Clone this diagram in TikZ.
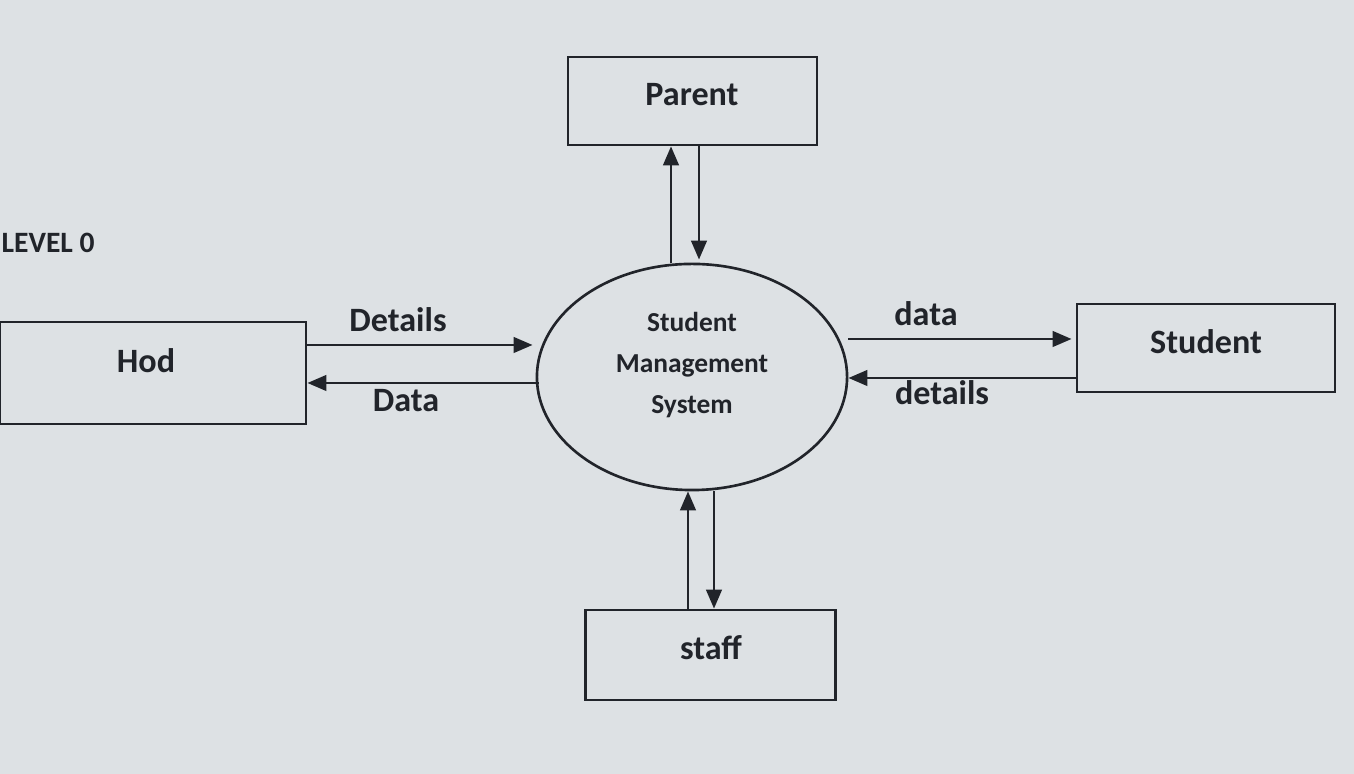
\documentclass[tikz,border=0pt]{standalone}
\usepackage{fontspec}
\setmainfont{Carlito}
\usetikzlibrary{arrows.meta,shapes.geometric}
\definecolor{paper}{RGB}{221,225,228}
\definecolor{ink}{RGB}{33,36,42}
\begin{document}
\begin{tikzpicture}[x=0.01cm,y=-0.01cm,
  box/.style={draw=ink,line width=0.75pt,inner sep=0pt,rectangle},
  oval/.style={draw=ink,line width=0.75pt,inner sep=0pt,ellipse,minimum width=3.10cm,minimum height=2.26cm},
  txt/.style={text=ink,font=\fontsize{9.7}{11}\selectfont\bfseries,inner sep=0pt},
  otxt/.style={text=ink,font=\fontsize{7.8}{11.7}\selectfont\bfseries,align=center,inner sep=0pt},
  flow/.style={draw=ink,line width=0.8pt,-{Triangle[length=5.4pt,width=4.4pt]}}]
\fill[paper] (0,0) rectangle (1354,774);
\useasboundingbox (0,0) rectangle (1354,774);
% boxes
\node[box,minimum width=2.49cm,minimum height=0.88cm] (P) at (692.5,101) {};
\node[box,minimum width=3.06cm,minimum height=1.02cm] (H) at (153,373) {};
\node[box,minimum width=2.58cm,minimum height=0.88cm] (S) at (1206,348) {};
\node[box,minimum width=2.50cm,minimum height=0.90cm] (T) at (710.5,655) {};
\node[oval] (E) at (692,377) {};
% texts
\node[txt] (Pt) at (692,95) {Parent};
\node[txt] (Ht) at (146,361) {Hod};
\node[txt] (St) at (1206,342) {Student};
\node[txt] (Tt) at (711,648) {staff};
\node[otxt] (Et) at (692,365) {Student\\Management\\System};
\node[txt,font=\fontsize{8.4}{10}\selectfont\bfseries,anchor=west] (lv) at (1,243) {LEVEL 0};
% x / y guides
\coordinate (pu) at (671,0);
\coordinate (pd) at (699,0);
\coordinate (su) at (688,0);
\coordinate (sd) at (714,0);
\coordinate (hd) at (0,345);
\coordinate (hda) at (0,383);
\coordinate (sda) at (0,339);
\coordinate (sde) at (0,378);
% connectors
\draw[flow] (E.north -| pu) -- (P.south -| pu);
\draw[flow] (P.south -| pd) -- ([yshift=0.03cm]E.north -| pd);
\draw[flow] (H.east |- hd) -- ([xshift=-0.03cm]E.west |- hd);
\draw[flow] ([xshift=0.03cm]E.west |- hda) -- (H.east |- hda);
\draw[flow] (E.east |- sda) -- ([xshift=-0.04cm]S.west |- sda);
\draw[flow] (S.west |- sde) -- (E.east |- sde);
\draw[flow] (T.north -| su) -- (E.south -| su);
\draw[flow] (E.south -| sd) -- (T.north -| sd);
% labels
\node[txt] (l1) at (398,320) {Details};
\node[txt] (l2) at (406,401) {Data};
\node[txt] (l3) at (926,314) {data};
\node[txt] (l4) at (942,393) {details};
\end{tikzpicture}
\end{document}
